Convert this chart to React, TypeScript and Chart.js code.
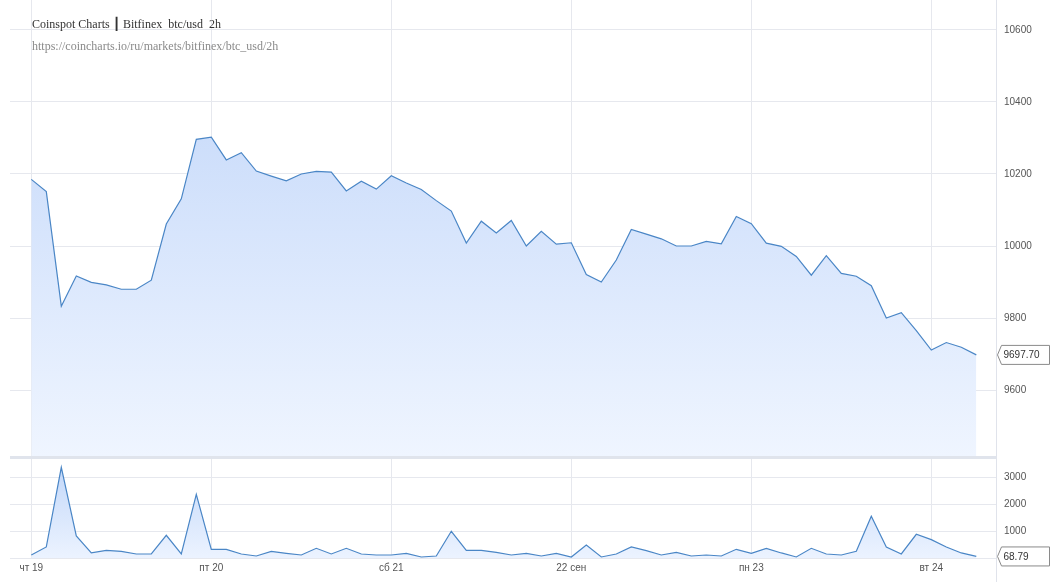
import React, { useEffect, useRef } from 'react';
import { Chart, registerables } from 'chart.js';

Chart.register(...registerables);

const dayLabels = ['чт 19', 'пт 20', 'сб 21', '22 сен', 'пн 23', 'вт 24'];
const dayTickIndex = [0, 12, 24, 36, 48, 60];
const priceTicks = [9600, 9800, 10000, 10200, 10400, 10600];
const volumeTicks = [0, 1000, 2000, 3000];

const price = [
  10185, 10151, 9833, 9917, 9899, 9892, 9880, 9880, 9905, 10061, 10131, 10296,
  10302, 10239, 10259, 10208, 10194, 10181, 10200, 10207, 10205, 10153, 10180, 10158,
  10195, 10175, 10157, 10126, 10097, 10008, 10069, 10036, 10071, 10000, 10041, 10005,
  10009, 9921, 9900, 9961, 10046, 10033, 10020, 10000, 10000, 10013, 10006, 10082,
  10062, 10008, 9999, 9971, 9919, 9973, 9924, 9916, 9890, 9800, 9815, 9765,
  9711, 9732, 9719, 9697.7,
];

const volume = [
  123, 420, 3370, 827, 198, 296, 259, 160, 160, 852, 160, 2370,
  333, 333, 160, 86, 259, 185, 123, 370, 160, 370, 160, 123,
  123, 185, 49, 86, 1000, 296, 296, 222, 123, 185, 86, 185,
  49, 494, 49, 160, 420, 284, 123, 222, 86, 123, 86, 333,
  185, 370, 198, 49, 370, 160, 123, 259, 1556, 420, 160, 889,
  691, 420, 198, 68.79,
];

const X_MIN = -1.42;
const X_MAX = 64.313;
const LINE = '#4a86c6';
const GRID = '#e6e8ee';
const TICK_COLOR = '#555';
const TICK_FONT = { family: '"Liberation Sans", Arial, sans-serif', size: 10 };

function lastBox(value: number, text: string) {
  return {
    id: 'lastBox',
    afterDraw(chart: any) {
      const ctx = chart.ctx;
      const y = chart.scales.y.getPixelForValue(value);
      const tip = chart.chartArea.right + 1.5;
      const l = tip + 4;
      const r = 1049.5;
      const h = 9.5;
      ctx.save();
      ctx.beginPath();
      ctx.moveTo(tip, y);
      ctx.lineTo(l, y - h);
      ctx.lineTo(r, y - h);
      ctx.lineTo(r, y + h);
      ctx.lineTo(l, y + h);
      ctx.closePath();
      ctx.fillStyle = '#fff';
      ctx.fill();
      ctx.strokeStyle = '#8a8a8a';
      ctx.lineWidth = 1;
      ctx.stroke();
      ctx.fillStyle = '#333';
      ctx.font = '10px "Liberation Sans", Arial, sans-serif';
      ctx.textBaseline = 'middle';
      ctx.textAlign = 'left';
      ctx.fillText(text, l + 2, y + 0.5);
      ctx.restore();
    },
  };
}

function gradientFill(top: string, bottom: string) {
  return (context: any) => {
    const chart = context.chart;
    const area = chart.chartArea;
    if (!area) return bottom;
    const g = chart.ctx.createLinearGradient(0, area.top, 0, area.bottom);
    g.addColorStop(0, top);
    g.addColorStop(1, bottom);
    return g;
  };
}

function xScale(showLabels: boolean) {
  return {
    type: 'linear',
    min: X_MIN,
    max: X_MAX,
    border: { display: false },
    grid: { color: GRID, drawTicks: false, lineWidth: 1 },
    afterBuildTicks: (s: any) => {
      s.ticks = dayTickIndex.map((v) => ({ value: v }));
    },
    ticks: {
      display: showLabels,
      color: TICK_COLOR,
      font: TICK_FONT,
      padding: 4,
      maxRotation: 0,
      autoSkip: false,
      callback: (v: any) => {
        const k = dayTickIndex.indexOf(Number(v));
        return k >= 0 ? dayLabels[k] : '';
      },
    },
    afterFit: (s: any) => {
      s.height = showLabels ? 23.7 : 0;
      s.paddingLeft = 0;
      s.paddingRight = 0;
    },
  };
}

function yScale(min: number, max: number, ticks: number[], hideZero: boolean) {
  return {
    type: 'linear',
    position: 'right',
    min,
    max,
    border: { display: false },
    grid: { color: GRID, drawTicks: false, lineWidth: 1 },
    afterBuildTicks: (s: any) => {
      s.ticks = ticks.map((v) => ({ value: v }));
    },
    ticks: {
      color: TICK_COLOR,
      font: TICK_FONT,
      padding: 8,
      callback: (v: any) => (hideZero && Number(v) === 0 ? '' : String(v)),
    },
    afterFit: (s: any) => {
      s.width = 58;
      s.paddingTop = 0;
      s.paddingBottom = 0;
    },
  };
}

export default function App() {
  const topRef = useRef<HTMLCanvasElement | null>(null);
  const botRef = useRef<HTMLCanvasElement | null>(null);

  useEffect(() => {
    const priceChart = new Chart(topRef.current as HTMLCanvasElement, {
      type: 'line',
      data: {
        datasets: [
          {
            data: price.map((v, i) => ({ x: i, y: v })),
            borderColor: LINE,
            borderWidth: 1.2,
            pointRadius: 0,
            tension: 0,
            fill: 'start',
            backgroundColor: gradientFill('rgba(190,212,249,1)', 'rgba(239,245,255,1)'),
          },
        ],
      },
      options: {
        animation: false,
        responsive: false,
        devicePixelRatio: 1,
        layout: { padding: { left: 10, right: 0, top: 0, bottom: 0 } },
        plugins: { legend: { display: false }, tooltip: { enabled: false } },
        scales: {
          x: xScale(false) as any,
          y: yScale(9417, 10683, priceTicks, false) as any,
        },
      },
      plugins: [lastBox(price[price.length - 1], price[price.length - 1].toFixed(2))],
    });

    const volChart = new Chart(botRef.current as HTMLCanvasElement, {
      type: 'line',
      data: {
        datasets: [
          {
            data: volume.map((v, i) => ({ x: i, y: v })),
            borderColor: LINE,
            borderWidth: 1.2,
            pointRadius: 0,
            tension: 0,
            fill: 'origin',
            backgroundColor: gradientFill('rgba(192,214,249,1)', 'rgba(236,243,255,1)'),
          },
        ],
      },
      options: {
        animation: false,
        responsive: false,
        devicePixelRatio: 1,
        layout: { padding: { left: 10, right: 0, top: 0, bottom: 0 } },
        plugins: { legend: { display: false }, tooltip: { enabled: false } },
        scales: {
          x: xScale(true) as any,
          y: yScale(0, 3678, volumeTicks, true) as any,
        },
      },
      plugins: [lastBox(volume[volume.length - 1], volume[volume.length - 1].toFixed(2))],
    });

    return () => {
      priceChart.destroy();
      volChart.destroy();
    };
  }, []);

  return (
    <div style={{ position: 'fixed', left: 0, top: 0, width: 1054, height: 582, background: '#fff', overflow: 'hidden' }}>
      <canvas ref={topRef} width={1054} height={456} style={{ position: 'absolute', left: 0, top: 0, width: 1054, height: 456 }} />
      <div style={{ position: 'absolute', left: 10, top: 456, width: 986, height: 3, background: '#e0e4ec' }} />
      <canvas ref={botRef} width={1054} height={123} style={{ position: 'absolute', left: 0, top: 459, width: 1054, height: 123 }} />
      <div style={{ position: 'absolute', left: 996, top: 0, width: 1, height: 582, background: '#e0e3eb' }} />
      <div style={{ position: 'absolute', left: 32, top: 17, fontFamily: '"Liberation Serif", "Times New Roman", serif', fontSize: 12, lineHeight: '14px', color: '#333', whiteSpace: 'pre' }}>
        {'Coinspot Charts '}<span style={{ fontWeight: 'bold', fontFamily: '"DejaVu Sans", sans-serif' }}>┃</span>{' Bitfinex  btc/usd  2h'}
      </div>
      <div style={{ position: 'absolute', left: 32, top: 39, fontFamily: '"Liberation Serif", "Times New Roman", serif', fontSize: 12, lineHeight: '14px', color: '#8a8a8a', whiteSpace: 'pre' }}>
        https://coincharts.io/ru/markets/bitfinex/btc_usd/2h
      </div>
    </div>
  );
}
